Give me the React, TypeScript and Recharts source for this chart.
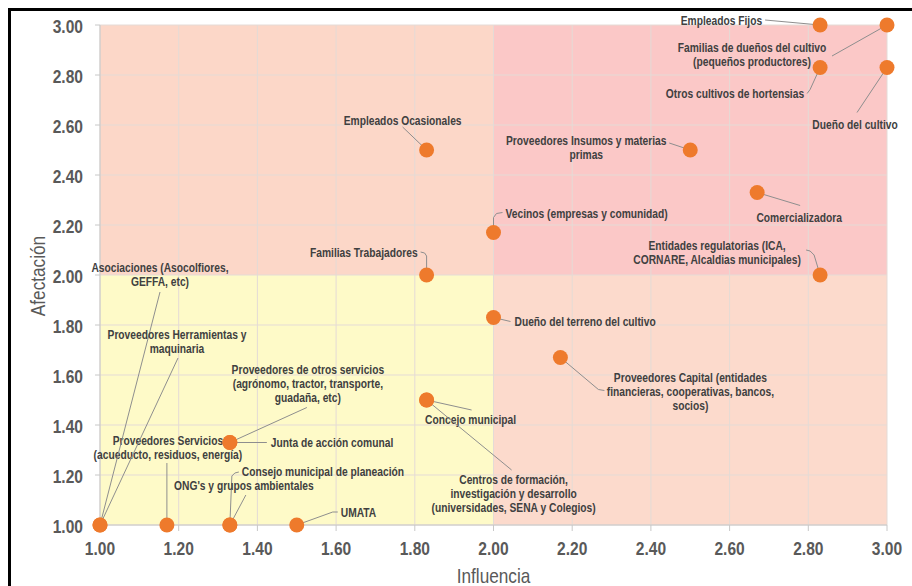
import { ScatterChart, Scatter, XAxis, YAxis, ReferenceArea, ReferenceLine, Label } from "recharts";

// actores (texto con saltos de línea como en el original)
const actores = [
  "Empleados Fijos",
  "Familias de dueños del cultivo\n(pequeños productores)",
  "Otros cultivos de hortensias",
  "Dueño del cultivo",
  "Empleados Ocasionales",
  "Proveedores Insumos y materias\nprimas",
  "Comercializadora",
  "Vecinos (empresas y comunidad)",
  "Familias Trabajadores",
  "Entidades regulatorias (ICA,\nCORNARE,  Alcaldias municipales)",
  "Dueño del terreno del cultivo",
  "Proveedores Capital (entidades\nfinancieras, cooperativas, bancos,\nsocios)",
  "Concejo municipal",
  "Centros de formación,\ninvestigación y desarrollo\n(universidades, SENA y Colegios)",
  "Junta de acción comunal",
  "Proveedores de otros servicios\n(agrónomo, tractor, transporte,\nguadaña, etc)",
  "Proveedores Servicios\n(acueducto, residuos, energía)",
  "Asociaciones (Asocolfiores,\nGEFFA, etc)",
  "Proveedores Herramientas y\nmaquinaria",
  "Consejo municipal de planeación",
  "ONG's y grupos ambientales",
  "UMATA",
];

const influencia = [2.83, 3.0, 2.83, 3.0, 1.83, 2.5, 2.67, 2.0, 1.83, 2.83, 2.0, 2.17, 1.83, 1.83, 1.33, 1.33, 1.17, 1.0, 1.0, 1.33, 1.33, 1.5];
const afectacion = [3.0, 3.0, 2.83, 2.83, 2.5, 2.5, 2.33, 2.17, 2.0, 2.0, 1.83, 1.67, 1.5, 1.5, 1.33, 1.33, 1.0, 1.0, 1.0, 1.0, 1.0, 1.0];

const ticks = [1.0, 1.2, 1.4, 1.6, 1.8, 2.0, 2.2, 2.4, 2.6, 2.8, 3.0];

// ubicación de cada etiqueta respecto a su punto (px) y guía
type Anchor = "start" | "middle" | "end";
const etiquetas: { tx: number; ty: number; anchor: Anchor; guia: number[][] }[] = [
  { tx: -58, ty: -4, anchor: "end", guia: [[0, 0], [-55, -5]] },
  { tx: -135, ty: 23, anchor: "middle", guia: [[0, 0], [-55, 31]] },
  { tx: -16, ty: 26, anchor: "end", guia: [[0, 0], [-10, 22], [-13, 26]] },
  { tx: -32, ty: 57, anchor: "middle", guia: [[0, 0], [-30, 45]] },
  { tx: -24, ty: -29, anchor: "middle", guia: [[0, 0], [-24, -23]] },
  { tx: -104, ty: -9, anchor: "middle", guia: [[0, 0], [-21, -7]] },
  { tx: 42, ty: 25, anchor: "middle", guia: [[0, 0], [43, 13]] },
  { tx: 12, ty: -19, anchor: "start", guia: [[0, 0], [0, -15], [3, -19], [9, -20]] },
  { tx: -9, ty: -22, anchor: "end", guia: [[0, 0], [0, -19], [-2, -22], [-6, -23]] },
  { tx: -103, ty: -29, anchor: "middle", guia: [[0, 0], [-6, -20], [-10, -24], [-14, -25]] },
  { tx: 21, ty: 4, anchor: "start", guia: [[0, 0], [17, 4]] },
  { tx: 130, ty: 20, anchor: "middle", guia: [[0, 0], [38, 32], [44, 33]] },
  { tx: 44, ty: 20, anchor: "middle", guia: [[0, 0], [45, 10]] },
  { tx: 87, ty: 80, anchor: "middle", guia: [[0, 0], [85, 70]] },
  { tx: 41, ty: 0, anchor: "start", guia: [[0, 0], [37, 0]] },
  { tx: 78, ty: -73, anchor: "middle", guia: [[0, 0], [77, -35]] },
  { tx: 1, ty: -84, anchor: "middle", guia: [[0, 0], [0, -62]] },
  { tx: 60, ty: -257, anchor: "middle", guia: [[0, 0], [60, -233]] },
  { tx: 77, ty: -190, anchor: "middle", guia: [[0, 0], [78, -167]] },
  { tx: 12, ty: -53, anchor: "start", guia: [[0, 0], [2, -49], [5, -52], [9, -53]] },
  { tx: 14, ty: -39, anchor: "middle", guia: [[0, 0], [16, -30]] },
  { tx: 44, ty: -12, anchor: "start", guia: [[0, 0], [36, -13], [41, -13]] },
];

const datos = actores.map((nombre, i) => ({ x: influencia[i], y: afectacion[i], nombre, i }));

// Liberation Sans estrechada ~ Arial Narrow
const FUENTE = "'Liberation Sans', Arial, sans-serif";
const ESTRECHO = 0.82;

const TextoN = ({ x, y, anchor = "start", size, bold = false, fill, rot = 0, children }: any) => (
  <text
    transform={`translate(${x} ${y})${rot ? ` rotate(${rot})` : ""} scale(${ESTRECHO} 1)`}
    x={0}
    y={0}
    textAnchor={anchor}
    dominantBaseline="central"
    fontFamily={FUENTE}
    fontWeight={bold ? "bold" : "normal"}
    fontSize={size}
    fill={fill}
  >
    {children}
  </text>
);

const EtiquetaActor = (props: any) => {
  const { cx, cy, payload } = props;
  const e = etiquetas[payload.i];
  const lineas: string[] = payload.nombre.split("\n");
  return (
    <g>
      <polyline
        points={e.guia.map(([a, b]) => `${cx + a},${cy + b}`).join(" ")}
        fill="none"
        stroke="#8e8e8e"
        strokeWidth={1}
      />
      {lineas.map((l, k) => (
        <TextoN key={k} x={cx + e.tx} y={cy + e.ty + k * 14} anchor={e.anchor} size={12.5} bold fill="#404040">
          {l}
        </TextoN>
      ))}
    </g>
  );
};

const Punto = (props: any) => <circle cx={props.cx} cy={props.cy} r={7.5} fill="#ee7a2c" />;

const tickX = (p: any) => (
  <TextoN x={p.x} y={p.y + 7} anchor="middle" size={19} bold fill="#595959">
    {Number(p.payload.value).toFixed(2)}
  </TextoN>
);

const tickY = (p: any) => (
  <TextoN x={p.x} y={p.y + 1} anchor="end" size={19} bold fill="#595959">
    {Number(p.payload.value).toFixed(2)}
  </TextoN>
);

const tituloY = (props: any) => {
  const vb = props.viewBox;
  return (
    <TextoN x={vb.x - 2} y={vb.y + vb.height / 2 + 1} anchor="middle" size={21} fill="#595959" rot={-90}>
      Afectación
    </TextoN>
  );
};

const tituloX = (props: any) => {
  const vb = props.viewBox;
  return (
    <TextoN x={vb.x + vb.width / 2} y={vb.y + 51} anchor="middle" size={21} fill="#595959">
      Influencia
    </TextoN>
  );
};

export default function App() {
  return (
    <div style={{ position: "absolute", left: 0, top: 0, width: 912, height: 586, background: "#fff", overflow: "hidden" }}>
      <div
        style={{
          position: "absolute", left: 8, top: 8, width: 904, height: 578,
          borderTop: "3px solid #000", borderLeft: "3px solid #000", boxSizing: "border-box",
        }}
      />
      <div style={{ position: "absolute", left: 0, top: 0 }}>
        <ScatterChart width={912} height={586} margin={{ top: 25, right: 25, bottom: 0, left: 40 }}>
          <XAxis
            type="number"
            dataKey="x"
            domain={[1, 3]}
            ticks={ticks}
            height={61}
            tickSize={6}
            tickMargin={10}
            tick={tickX}
            stroke="#c8c8c8"
          >
            <Label content={tituloX} />
          </XAxis>
          <YAxis
            type="number"
            dataKey="y"
            domain={[1, 3]}
            ticks={ticks}
            width={60}
            tickSize={5}
            tickMargin={12}
            tick={tickY}
            stroke="#c8c8c8"
          >
            <Label content={tituloY} />
          </YAxis>
          <ReferenceArea x1={1} x2={2} y1={2} y2={3} fill="#fcd7c8" fillOpacity={1} stroke="none" />
          <ReferenceArea x1={2} x2={3} y1={2} y2={3} fill="#fbc8c7" fillOpacity={1} stroke="none" />
          <ReferenceArea x1={1} x2={2} y1={1} y2={2} fill="#fefac8" fillOpacity={1} stroke="none" />
          <ReferenceArea x1={2} x2={3} y1={1} y2={2} fill="#fcdacc" fillOpacity={1} stroke="none" />
          {ticks.map((t) => (
            <ReferenceLine key={"v" + t} x={t} stroke="#e4dbd6" strokeWidth={1} />
          ))}
          {ticks.map((t) => (
            <ReferenceLine key={"h" + t} y={t} stroke="#e4dbd6" strokeWidth={1} />
          ))}
          <Scatter data={datos} shape={EtiquetaActor} isAnimationActive={false} />
          <Scatter data={datos} shape={Punto} isAnimationActive={false} />
        </ScatterChart>
      </div>
    </div>
  );
}
